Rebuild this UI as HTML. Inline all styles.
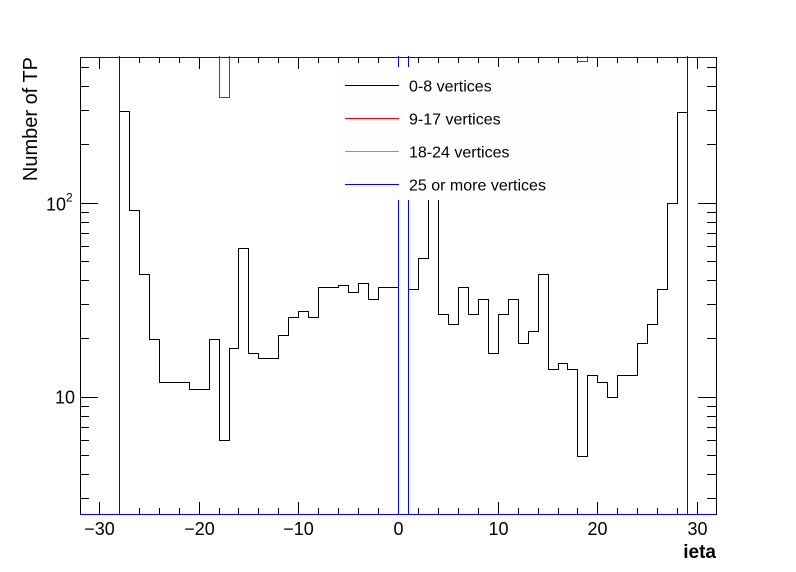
<!DOCTYPE html>
<html><head><meta charset="utf-8"><style>
html,body{margin:0;padding:0;background:#fff;}
svg{display:block;font-family:"Liberation Sans",sans-serif;}
path,line,rect{shape-rendering:crispEdges;}
</style></head><body>
<svg id="chart" width="796" height="572" viewBox="0 0 796 572">
<defs><clipPath id="pc"><rect x="79" y="56" width="638" height="459"/></clipPath></defs>
<rect x="0" y="0" width="796" height="572" fill="#fff"/>
<g id="axes"></g>
<g id="series" clip-path="url(#pc)"></g>
<g id="legend"></g>
<text x="37" y="57" transform="rotate(-90 37 57)" text-anchor="end" font-size="20">Number of TP</text>
<text x="716" y="558" text-anchor="end" font-size="19" font-weight="bold">ieta</text>
</svg>
<script>
// bins from -32 to 31 (bin k covers [k, k+1))
const binStart = -32;
const black = [0,0,0,0, 297,91.6,42.8,19.8,11.9,11.9,11.9,10.9,10.9,19.8,6.0,17.8,58.4,16.8,15.8,15.8,20.8,25.8,27.7,25.8,36.7,36.7,37.7,34.7,38.6,32,36.7,36.7,
  0,35.9,51.9,400,26.7,23.7,36.7,26.7,32,16.8,26.7,32,18.9,21.8,42.8,13.9,14.9,13.9,4.94,13.0,11.9,10,13,13,18.9,23.7,35.9,99.6,292,0,0,0];
const red = [0,0,0,0,5000,5000,5000,5000,5000,5000,5000,5000,5000,5000,351,5000,5000,5000,5000,5000,5000,5000,5000,5000,5000,5000,5000,5000,5000,5000,5000,5000,
  0,5000,5000,5000,5000,5000,5000,5000,5000,5000,5000,5000,5000,5000,5000,5000,5000,5000,540,5000,5000,5000,5000,5000,5000,5000,5000,5000,5000,0,0,0];
const blue = [0,0,0,0,5000,5000,5000,5000,5000,5000,5000,5000,5000,5000,5000,5000,5000,5000,5000,5000,5000,5000,5000,5000,5000,5000,5000,5000,5000,5000,5000,5000,
  0,5000,5000,5000,5000,5000,5000,5000,5000,5000,5000,5000,5000,5000,5000,5000,5000,5000,5000,5000,5000,5000,5000,5000,5000,5000,5000,5000,5000,0,0,0];
const xTicks = [-30,-20,-10,0,10,20,30];
const legendLabels = ["0-8 vertices","9-17 vertices","18-24 vertices","25 or more vertices"];
const legendColors = ["#000000","#ff0000","#00ff00","#0000ff"];

const L=80,R=716,T=57,B=514;
function X(v){return Math.floor(398.5+9.97*v)+0.5;}
function Y(v){ if(v<=0) return B+5; return Math.round(396.7-194*(Math.log10(v)-1))+0.5;}
const NS="http://www.w3.org/2000/svg";
function mk(tag,attrs,parent){const e=document.createElementNS(NS,tag);for(const k in attrs)e.setAttribute(k,attrs[k]);parent.appendChild(e);return e;}
const axes=document.getElementById('axes'),series=document.getElementById('series'),leg=document.getElementById('legend');

const fr=mk('rect',{x:L+0.5,y:T+0.5,width:R-L,height:B-T,fill:'none',stroke:'#000','stroke-width':1},axes);



let d='';
for(let v=-30;v<=30;v+=2){const x=X(v);const len=(v%10===0)?12:6;d+=`M${x} ${B}V${B-len}M${x} ${T}V${T+len}`;}
const yt=[];for(let dec=1;dec<=100;dec*=10)for(let m=1;m<=9;m++)yt.push(m*dec);
yt.forEach(v=>{const y=Y(v);if(y<T||y>B)return;const len=(v===10||v===100)?18:9;d+=`M${L} ${y}H${L+len}M${R} ${y}H${R-len}`;});
const tk=mk('path',{d:d,stroke:'#000','stroke-width':1,fill:'none'},axes);



xTicks.forEach(v=>{const t=mk('text',{x:X(v),y:535,'text-anchor':'middle','font-size':18},axes);t.textContent=(v<0?'\u2212'+(-v):''+v);

});
const t10=mk('text',{x:75,y:Y(10)+6,'text-anchor':'end','font-size':18},axes);t10.textContent='10';


const t100=mk('text',{x:66,y:Y(100)+7,'text-anchor':'end','font-size':18},axes);t100.textContent='10';


const sup=mk('text',{x:66,y:Y(100)-2,'font-size':12},axes);sup.textContent='2';



function histPath(vals){let p=`M${L} ${B+5}`;vals.forEach((v,i)=>{const x0=X(binStart+i),x1=X(binStart+i+1),y=Y(v);p+=`L${x0} ${y}L${x1} ${y}`;});return p+`L${R} ${B+5}`;}
const hk=mk('path',{d:histPath(black),stroke:'#000000',fill:'none','stroke-width':1},series);


const hr=mk('path',{d:histPath(red),stroke:'#ff0000',fill:'none','stroke-width':1},series);


const hb=mk('path',{d:histPath(blue),stroke:'#0000ff',fill:'none','stroke-width':1},series);


const bb=mk('line',{x1:L,y1:B+0.5,x2:R,y2:B+0.5,stroke:'#0000ff'},series);


const tb=mk('line',{x1:L,y1:T+0.5,x2:R,y2:T+0.5,stroke:'#0000ff'},series);



const lb=mk('rect',{x:340,y:67,width:296,height:133,fill:'#fefefe'},leg);


legendLabels.forEach((s,i)=>{const y=85.5+i*33;
const ln=mk('line',{x1:345,y1:y,x2:399,y2:y,stroke:legendColors[i],'stroke-width':1},leg);


const tx=mk('text',{x:409,y:y+6,'font-size':16},leg);tx.textContent=s;

});
</script>
</body></html>
